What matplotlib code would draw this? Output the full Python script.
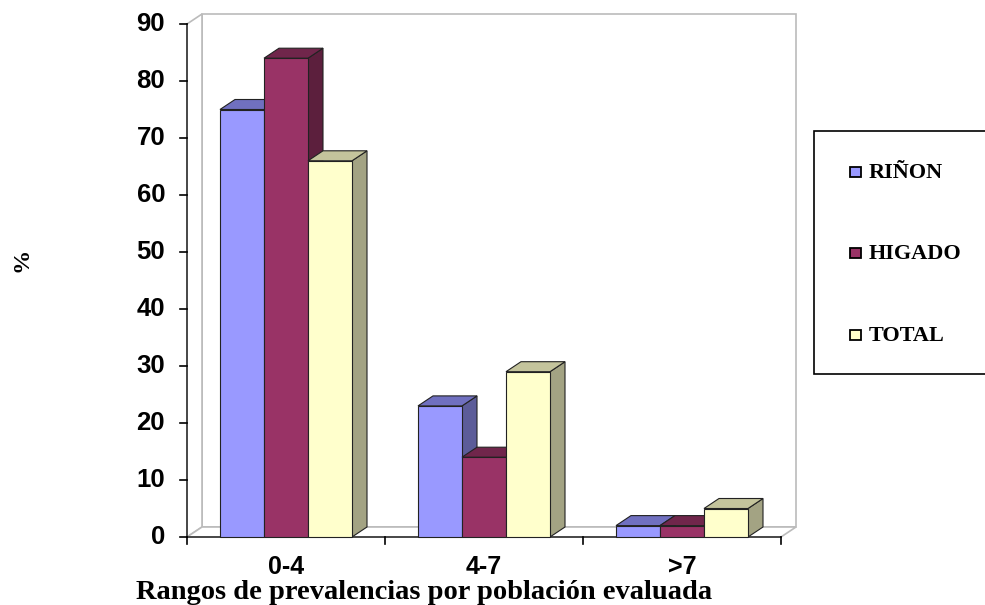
import matplotlib
matplotlib.use("Agg")
import matplotlib.pyplot as plt
from matplotlib.patches import Polygon, Rectangle

categories = ["0-4", "4-7", ">7"]
series = ["RIÑON", "HIGADO", "TOTAL"]
rinon = [75, 23, 2]
higado = [84, 14, 2]
total = [66, 29, 5]
yticks = [0, 10, 20, 30, 40, 50, 60, 70, 80, 90]
xlabel = "Rangos de prevalencias por población evaluada"
ylabel = "%"

face = ["#9999FF", "#993366", "#FFFFCC"]
top = ["#7070C0", "#70264B", "#C4C49C"]
side = ["#5C5C99", "#5C1F3D", "#A3A383"]

W, H = 985, 605
fig = plt.figure(figsize=(W / 100, H / 100), dpi=100)
L, R, B, T = 187, 781, 537, 24
ax = fig.add_axes([L / W, 1 - B / H, (R - L) / W, (B - T) / H])
ax.set_xlim(0, 3)
ax.set_ylim(0, 90)
ax.axis("off")

dx = 15 / 198          # depth in x data units
dy = 10 / 5.7          # depth in y data units
bw = 44 / 198
lw = 0.8
k = "#222222"

# walls and floor
wall = "#BBBBBB"
ax.add_patch(Polygon([(dx, dy), (3 + dx, dy), (3 + dx, 90 + dy), (dx, 90 + dy)], fc="white", ec=wall, lw=1.2, clip_on=False))
ax.add_patch(Polygon([(0, 0), (dx, dy), (dx, 90 + dy), (0, 90)], fc="white", ec=wall, lw=1.2, clip_on=False))
ax.add_patch(Polygon([(0, 0), (3, 0), (3 + dx, dy), (dx, dy)], fc="white", ec=wall, lw=1.2, clip_on=False))

# axes lines and ticks
ax.plot([0, 0], [0, 90], color="#333333", lw=1.2, clip_on=False)
ax.plot([0, 3], [0, 0], color="#333333", lw=1.2, clip_on=False)
for t in yticks:
    ax.plot([-7 / 198, 0], [t, t], color="black", lw=1.2, clip_on=False)
    ax.text(-22 / 198, t, str(t), ha="right", va="center", fontsize=18.5, fontweight="bold",
            family="Liberation Sans", clip_on=False)
for i in range(4):
    ax.plot([i, i], [0, -7 / 5.7], color="black", lw=1.2, clip_on=False)

# bars
for c, cat in enumerate(categories):
    x0 = c + 33 / 198
    for s, vals in enumerate([rinon, higado, total]):
        v = vals[c]
        x = x0 + s * bw
        ax.add_patch(Polygon([(x + bw, 0), (x + bw + dx, dy), (x + bw + dx, v + dy), (x + bw, v)],
                             fc=side[s], ec=k, lw=lw, clip_on=False, zorder=3 + s))
        ax.add_patch(Polygon([(x, v), (x + bw, v), (x + bw + dx, v + dy), (x + dx, v + dy)],
                             fc=top[s], ec=k, lw=lw, clip_on=False, zorder=3 + s))
        ax.add_patch(Rectangle((x, 0), bw, v, fc=face[s], ec=k, lw=lw, clip_on=False, zorder=3 + s))
    ax.text(c + 0.5, -37 / 5.7, cat, ha="center", va="baseline", fontsize=18, fontweight="bold",
            family="Liberation Sans", clip_on=False, zorder=6)

fig.text(424 / W, 1 - 599 / H, xlabel, ha="center", va="baseline", fontsize=20.5, fontweight="bold",
         family="Liberation Serif", zorder=7)
fig.text(22 / W, 1 - 260 / H, ylabel, ha="center", va="center", rotation=90, fontsize=17.5, fontweight="bold",
         family="Liberation Serif")

# legend
fig.add_artist(Rectangle((814 / W, 1 - 374 / H), 175 / W, 243 / H, transform=fig.transFigure,
                         fc="white", ec="black", lw=1.2))
for name, col, py in zip(series, face, [172, 253, 335]):
    fig.add_artist(Rectangle((850 / W, 1 - (py + 5) / H), 11 / W, 10 / H, transform=fig.transFigure,
                             fc=col, ec="black", lw=1.3))
    fig.text(869 / W, 1 - (py + 6) / H, name, ha="left", va="baseline", fontsize=16, fontweight="bold",
             family="Liberation Serif")

fig.savefig("out.png", dpi=100)
